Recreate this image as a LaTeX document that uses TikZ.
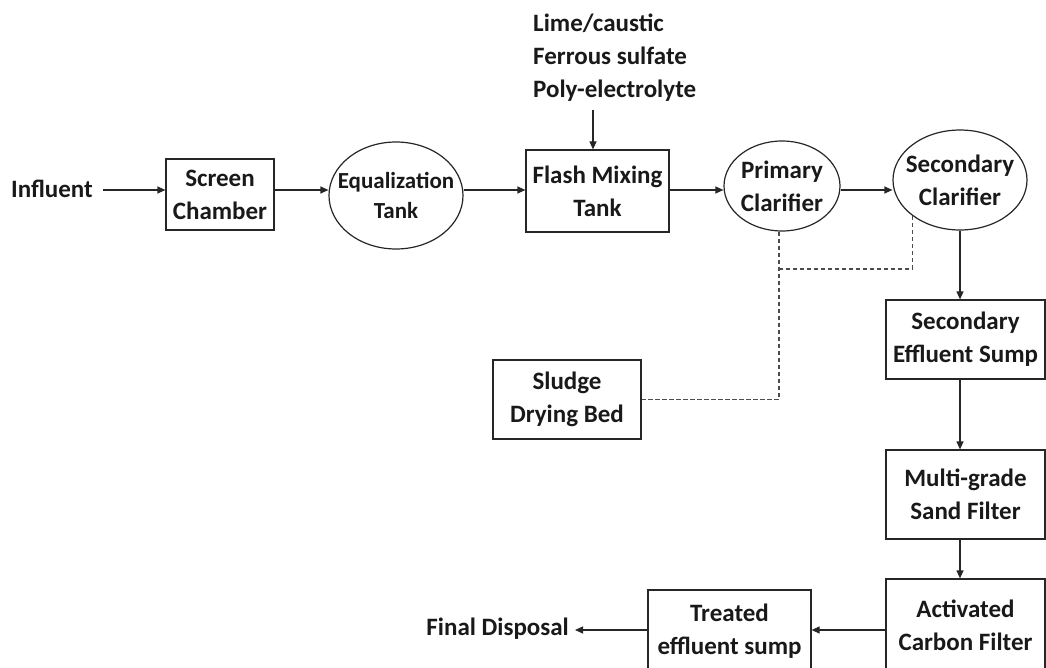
\documentclass[tikz,border=0pt]{standalone}
\usepackage{fontspec}
\setmainfont{Carlito}
\usetikzlibrary{arrows.meta,shapes.geometric}
\begin{document}
\begin{tikzpicture}[x=1pt,y=-1pt,
  every node/.style={font=\bfseries\fontsize{25}{33}\selectfont, align=center, inner sep=0pt, text=black!90},
  unitbox/.style={draw=black!85, line width=1.2pt, rectangle},
  tank/.style={draw=black!85, line width=1.2pt, ellipse},
  flow/.style={draw=black!85, line width=1.2pt, -{Triangle[length=8pt,width=7pt]}},
  sludgeline/.style={draw=black!70, line width=1.4pt, dash pattern=on 4.5pt off 2.5pt}]
\useasboundingbox (0,0) rectangle (1046,668);
\clip (0,0) rectangle (1046,668);

% main treatment train
\node[anchor=east] (inf) at (93,189) {Influent};
\node[unitbox, minimum width=108, minimum height=71] (screen) at (220,194.5) {Screen\\Chamber};
\node[tank, minimum width=134, minimum height=107] (eq) at (396,195.5) {};
\node[font=\bfseries\fontsize{23}{30}\selectfont] (eqtext) at (eq) {Equalization\\Tank};
\node[unitbox, minimum width=143, minimum height=82] (flash) at (597.5,191) {Flash Mixing\\Tank};
\node[tank, minimum width=116, minimum height=90] (prim) at (782,186) {};
\node (primtext) at (prim) {Primary\\Clarifier};
\node[tank, minimum width=134, minimum height=100] (sec) at (960,180) {};
\node (sectext) at (sec) {Secondary\\Clarifier};

% chemical dosing
\node[align=left, anchor=west] (chem) at (533,58) {Lime/caustic\\Ferrous sulfate\\Poly-electrolyte};
\coordinate (dose) at (593,110);

% tertiary treatment
\node[unitbox, minimum width=159, minimum height=79] (sump) at (965.5,339.5) {Secondary\\Effluent Sump};
\node[unitbox, minimum width=159, minimum height=89] (sand) at (965.5,494.5) {Multi-grade\\Sand Filter};
\node[unitbox, minimum width=159, minimum height=93] (carbon) at (965.5,625.5) {Activated\\Carbon Filter};
\node[unitbox, minimum width=163, minimum height=82] (treated) at (729.5,631) {Treated\\effluent sump};
\node[anchor=east] (final) at (569,629) {Final Disposal};

% sludge handling
\node[unitbox, minimum width=148, minimum height=79] (bed) at (567,399.5) {Sludge\\Drying Bed};
\coordinate (join) at (779,269);

% connectors
\draw[flow] ([xshift=10pt]inf.east |- 0,190) -- (screen.west |- 0,190);
\draw[flow] (screen.east |- 0,190) -- (eq.west |- 0,190);
\draw[flow] (eq.east |- 0,190) -- (flash.west |- 0,190);
\draw[flow] (flash.east |- 0,190) -- (prim.west |- 0,190);
\draw[flow] (prim.east |- 0,190) -- (sec.west |- 0,190);
\draw[flow] (dose) -- (dose |- flash.north);
\draw[flow] (sec.south) -- (sec.south |- sump.north);
\draw[flow] (sump.south -| sec.south) -- (sec.south |- sand.north);
\draw[flow] (sand.south -| sec.south) -- (sec.south |- carbon.north);
\draw[flow] (carbon.west |- 0,630) -- (treated.east |- 0,630);
\draw[flow] (treated.west |- 0,630) -- ([xshift=6pt]final.east |- 0,630);

\draw[sludgeline] (prim.south -| join) -- (join) |- (bed.east);
\draw[sludgeline] (sec.217) |- (join);
\end{tikzpicture}
\end{document}
